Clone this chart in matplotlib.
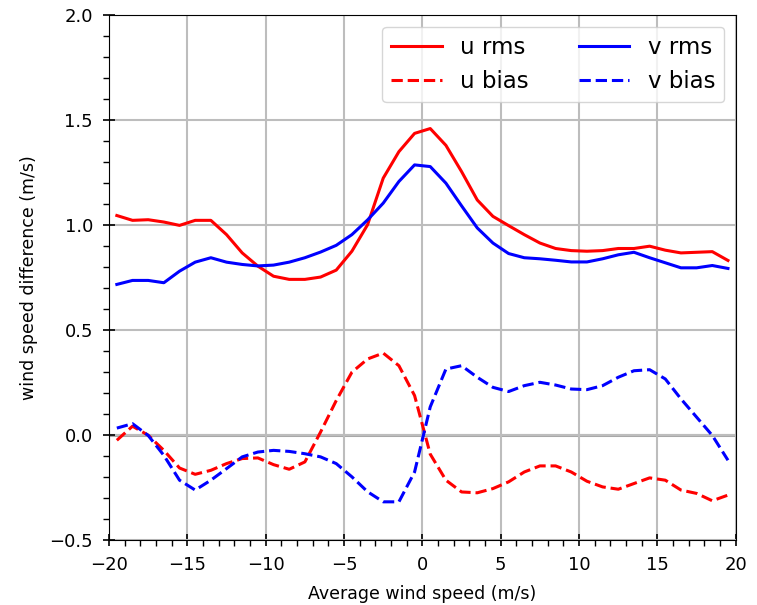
import numpy as np
import matplotlib
matplotlib.use('Agg')
import matplotlib.pyplot as plt
from matplotlib.ticker import MultipleLocator

# bin centres of average wind speed (m/s)
wind = [-19.5, -18.5, -17.5, -16.5, -15.5, -14.5, -13.5, -12.5, -11.5, -10.5,
        -9.5, -8.5, -7.5, -6.5, -5.5, -4.5, -3.5, -2.5, -1.5, -0.5,
        0.5, 1.5, 2.5, 3.5, 4.5, 5.5, 6.5, 7.5, 8.5, 9.5,
        10.5, 11.5, 12.5, 13.5, 14.5, 15.5, 16.5, 17.5, 18.5, 19.5]

u_rms = [1.046, 1.023, 1.026, 1.015, 0.999, 1.023, 1.023, 0.955, 0.868, 0.805,
         0.757, 0.742, 0.742, 0.753, 0.786, 0.876, 1.002, 1.224, 1.350, 1.437,
         1.460, 1.380, 1.255, 1.120, 1.042, 0.998, 0.955, 0.915, 0.889, 0.879,
         0.876, 0.879, 0.889, 0.889, 0.900, 0.881, 0.868, 0.871, 0.874, 0.832]

v_rms = [0.718, 0.737, 0.737, 0.726, 0.781, 0.824, 0.845, 0.824, 0.813, 0.806,
         0.810, 0.824, 0.845, 0.872, 0.904, 0.955, 1.025, 1.105, 1.208, 1.287,
         1.279, 1.200, 1.092, 0.987, 0.915, 0.865, 0.845, 0.840, 0.833, 0.825,
         0.825, 0.840, 0.859, 0.871, 0.845, 0.821, 0.797, 0.797, 0.808, 0.794]

u_bias = [-0.024, 0.043, 0.000, -0.072, -0.156, -0.186, -0.167, -0.135, -0.111, -0.108,
          -0.140, -0.162, -0.127, 0.015, 0.165, 0.300, 0.363, 0.391, 0.331, 0.189,
          -0.090, -0.214, -0.270, -0.274, -0.254, -0.222, -0.175, -0.146, -0.146, -0.175,
          -0.219, -0.246, -0.257, -0.230, -0.203, -0.214, -0.261, -0.277, -0.312, -0.285]

v_bias = [0.034, 0.055, -0.001, -0.096, -0.214, -0.261, -0.214, -0.159, -0.103, -0.080,
          -0.072, -0.077, -0.088, -0.103, -0.135, -0.198, -0.269, -0.317, -0.317, -0.175,
          0.135, 0.315, 0.331, 0.276, 0.228, 0.208, 0.236, 0.252, 0.239, 0.220,
          0.217, 0.236, 0.276, 0.307, 0.312, 0.268, 0.173, 0.086, -0.001, -0.119]

fig = plt.figure(figsize=(7.57, 6.05), dpi=100)
ax = fig.add_subplot(111)
fig.subplots_adjust(left=0.144, right=0.972, top=0.975, bottom=0.107)

ax.grid(True, color='#bdbdbd', linewidth=1.5)
ax.axhline(0, color='#a8a8a8', linewidth=2.2, zorder=1.5)

ax.plot(wind, u_rms, color='red', linewidth=2.2, label='u rms')
ax.plot(wind, u_bias, color='red', linewidth=2.2, linestyle='--', label='u bias')
ax.plot(wind, v_rms, color='blue', linewidth=2.2, label='v rms')
ax.plot(wind, v_bias, color='blue', linewidth=2.2, linestyle='--', label='v bias')

ax.set_xlim(-20, 20)
ax.set_ylim(-0.5, 2.0)
ax.xaxis.set_major_locator(MultipleLocator(5))
ax.xaxis.set_minor_locator(MultipleLocator(1))
ax.yaxis.set_major_locator(MultipleLocator(0.5))
ax.yaxis.set_minor_locator(MultipleLocator(0.1))
ax.tick_params(which='major', direction='inout', length=9, width=1.2, labelsize=13, pad=7)
ax.tick_params(which='minor', direction='out', length=4.5, width=1)

ax.set_xlabel('Average wind speed (m/s)', fontsize=12.5, labelpad=8)
ax.set_ylabel('wind speed difference (m/s)', fontsize=12.5, labelpad=8)

ax.legend(loc='upper right', ncol=2, fontsize=16.5, handlelength=2.2, columnspacing=2.2)

fig.savefig('out.png', dpi=100)
